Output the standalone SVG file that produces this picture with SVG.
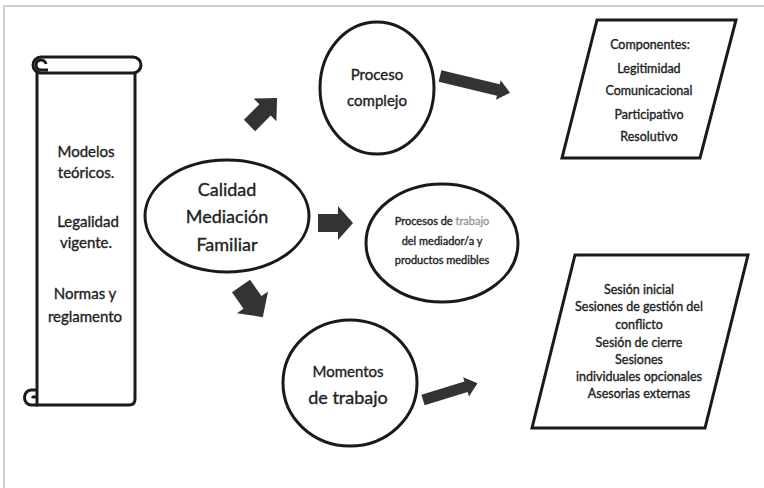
<svg xmlns="http://www.w3.org/2000/svg" width="764" height="488" viewBox="0 0 764 488">
<style>
.ln{fill:none;stroke:#1a1a1a;stroke-width:3;stroke-linejoin:round}
.nd{fill:#fff;stroke:#1a1a1a;stroke-width:3}
.ar{fill:#333;stroke:none}
text{font-family:Lato,"Liberation Sans",sans-serif;font-weight:normal;fill:#222;text-anchor:middle;stroke:#222;stroke-width:0.35px}
.t14{font-size:15px}
.t17{font-size:18px}
.t12{font-size:12.5px}
.t11{font-size:11px}
</style>
<rect x="0" y="0" width="764" height="488" fill="#fff"/>
<path d="M4 488 V6 H764" fill="none" stroke="#cfcfcf" stroke-width="2"/>

<g id="scroll">
<path class="nd" d="M37 65 V405 H129 Q135 405 135 399 V73"/>
<rect class="nd" x="33" y="57" width="108" height="16" rx="8"/>
<path class="ln" d="M46 64 A5 5 0 1 0 41 70 H48"/>
<path class="ln" d="M38 390 H31 A6.5 7.5 0 0 0 31 405 H38 M37 398 A3 3 0 0 0 32 398"/>
<text class="t14" x="86" y="157">Modelos</text>
<text class="t14" x="86" y="178">teóricos.</text>
<text class="t14" x="88" y="227">Legalidad</text>
<text class="t14" x="86" y="248">vigente.</text>
<text class="t14" x="85" y="299">Normas y</text>
<text class="t14" x="85" y="322">reglamento</text>
</g>

<g id="calidad">
<ellipse class="nd" cx="227" cy="216" rx="82" ry="56"/>
<text class="t17" x="227" y="196">Calidad</text>
<text class="t17" x="227" y="223">Mediación</text>
<text class="t17" x="227" y="251">Familiar</text>
</g>

<g id="proceso">
<ellipse class="nd" cx="377" cy="88" rx="57" ry="66"/>
<text class="t14" x="377" y="80">Proceso</text>
<text class="t14" x="377" y="106">complejo</text>
</g>

<g id="procesos">
<ellipse class="nd" cx="442" cy="243" rx="76" ry="59"/>
<text class="t11" x="442" y="225">Procesos de <tspan fill="#999" stroke="#999">trabajo</tspan></text>
<text class="t11" x="442" y="245">del mediador/a y</text>
<text class="t11" x="442" y="264">productos medibles</text>
</g>

<g id="momentos">
<ellipse class="nd" cx="350" cy="383" rx="67" ry="63"/>
<text class="t14" x="348" y="377">Momentos</text>
<text class="t17" x="348" y="404">de trabajo</text>
</g>

<g id="componentes">
<polygon class="nd" points="597,20 736,20 700,158 562,158"/>
<text class="t12" x="650" y="49">Componentes:</text>
<text class="t12" x="649" y="73">Legitimidad</text>
<text class="t12" x="649" y="95">Comunicacional</text>
<text class="t12" x="649" y="119">Participativo</text>
<text class="t12" x="649" y="141">Resolutivo</text>
</g>

<g id="sesiones">
<polygon class="nd" points="575,255 748,255 705,428 532,428"/>
<text class="t12" x="639" y="294">Sesión inicial</text>
<text class="t12" x="639" y="311">Sesiones de gestión del</text>
<text class="t12" x="639" y="329">conflicto</text>
<text class="t12" x="639" y="347">Sesión de cierre</text>
<text class="t12" x="639" y="364">Sesiones</text>
<text class="t12" x="639" y="381">individuales opcionales</text>
<text class="t12" x="639" y="398">Asesorias externas</text>
</g>

<g id="connectors">
<polygon class="ar" transform="translate(249.5,125.5) rotate(-45)" points="0,-8 22,-8 22,-16 39,0 22,16 22,8 0,8"/>
<polygon class="ar" transform="translate(318,223)" points="0,-9 20,-9 20,-17 35,0 20,17 20,9 0,9"/>
<polygon class="ar" transform="translate(241,286) rotate(55)" points="0,-11 20,-11 20,-19 38,0 20,19 20,11 0,11"/>
<polygon class="ar" transform="translate(440,76) rotate(13.5)" points="0,-6 60,-6 60,-10 72,0 60,10 60,6 0,6"/>
<polygon class="ar" transform="translate(423,400) rotate(-17)" points="0,-5.5 45,-5.5 45,-10 57,0 45,10 45,5.5 0,5.5"/>
</g>
</svg>
